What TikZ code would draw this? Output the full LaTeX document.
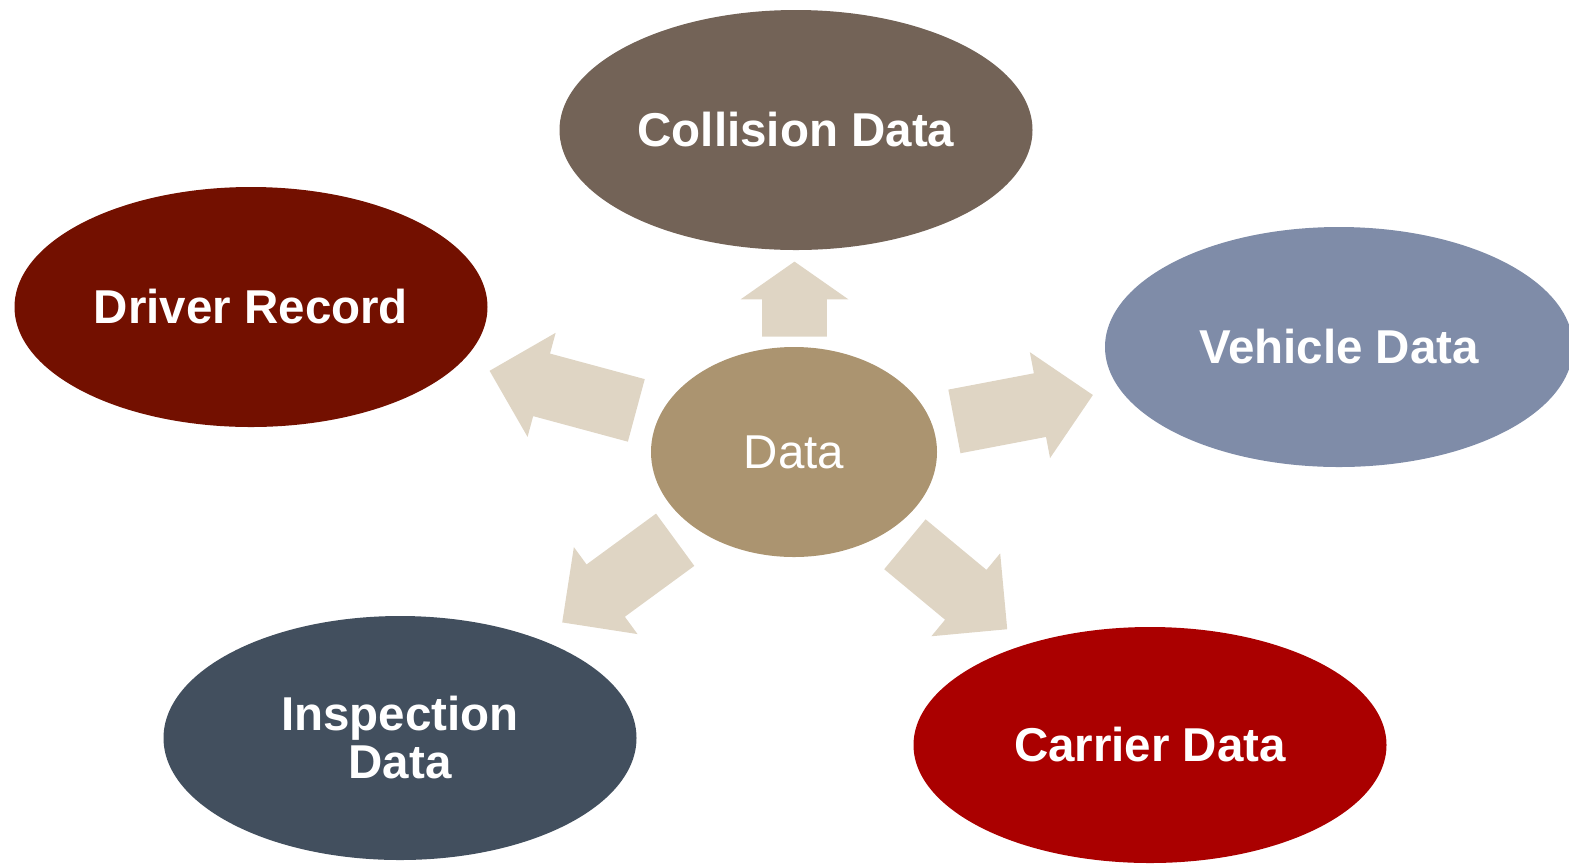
\documentclass[tikz,border=0pt]{standalone}
\usepackage{fontspec}
\setmainfont{Liberation Sans}
\usetikzlibrary{shapes.geometric,shapes.arrows,positioning}

\definecolor{collisionbrown}{HTML}{736357}
\definecolor{driverred}{HTML}{731000}
\definecolor{vehicleblue}{HTML}{7F8CA8}
\definecolor{inspectionslate}{HTML}{424F5E}
\definecolor{carrierred}{HTML}{AA0000}
\definecolor{datatan}{HTML}{AB9470}
\definecolor{arrowbeige}{HTML}{DFD5C4}

\begin{document}
\begin{tikzpicture}[x=0.5pt, y=-0.5pt]
          \tikzstyle{blob} = [ellipse, inner sep=0pt, text=white, align=center,
            font=\fontsize{23.75}{24}\selectfont\bfseries,
            minimum width=236.5pt, minimum height=120pt]
          \tikzstyle{fatarrow} = [single arrow, fill=arrowbeige, inner xsep=0pt,
            inner ysep=16pt, single arrow head extend=10.75pt, anchor=tail]

          \clip (0,0) rectangle (1569,864);

          \node[ellipse, fill=datatan, text=white, font=\fontsize{23.75}{24}\selectfont,
            minimum width=143pt, minimum height=105pt] (data) at (794,452) {Data};

          \node[blob, fill=collisionbrown] (collision) at (796,130) {Collision Data};
          \node[blob, fill=driverred] (driver) at (251,307) {Driver Record};
          \node[blob, fill=vehicleblue, minimum width=234pt] (vehicle) at (1339,347) {Vehicle Data};
          \node[blob, fill=inspectionslate, minimum height=122pt] (inspection) at (400,738) {Inspection\\Data};
          \node[blob, fill=carrierred, minimum height=118pt] (carrier) at (1150,745) {Carrier Data};

          % block arrows, placed by their tail
          \node[fatarrow, single arrow tip angle=110, minimum height=37.5pt, rotate=90] (tocollision) at (794.5,337) {};
          \node[fatarrow, minimum height=76pt, rotate=164.9] (todriver) at (636.7,410.5) {};
          \node[fatarrow, minimum height=70.5pt, rotate=10.8] (tovehicle) at (954,421.5) {};
          \node[fatarrow, minimum height=70pt, rotate=216.2] (toinspection) at (675.5,539.5) {};
          \node[fatarrow, minimum height=66.5pt, rotate=-39.7] (tocarrier) at (904.6,544) {};
        \end{tikzpicture}
\end{document}
